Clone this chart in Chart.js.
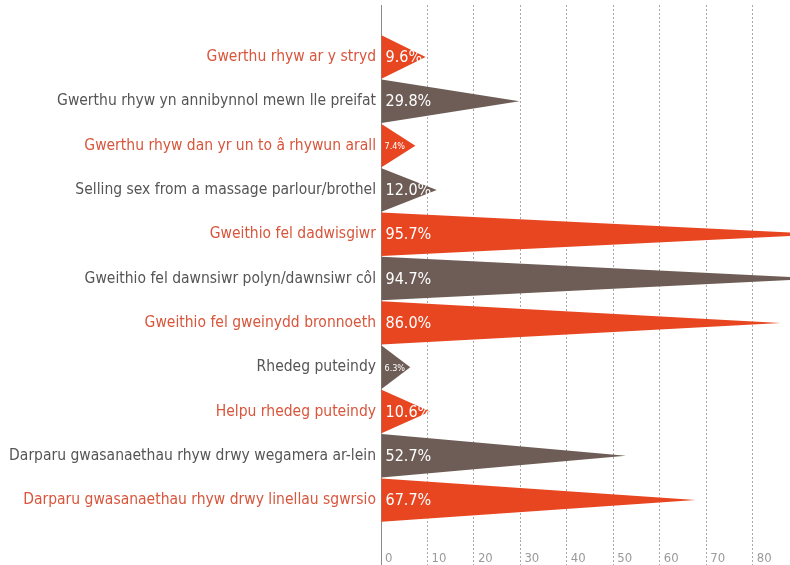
<!DOCTYPE html>
<html>
<head>
<meta charset="utf-8">
<script src="https://cdn.jsdelivr.net/npm/chart.js@4/dist/chart.umd.min.js"></script>
<style>
  html, body { margin: 0; padding: 0; background: #fff; }
  #wrap { width: 790px; height: 565px; position: relative; }
</style>
</head>
<body>
<div id="wrap"><canvas id="triChart"></canvas></div>
<script>
const categories = [
    'Gwerthu rhyw ar y stryd',
    'Gwerthu rhyw yn annibynnol mewn lle preifat',
    'Gwerthu rhyw dan yr un to â rhywun arall',
    'Selling sex from a massage parlour/brothel',
    'Gweithio fel dadwisgiwr',
    'Gweithio fel dawnsiwr polyn/dawnsiwr côl',
    'Gweithio fel gweinydd bronnoeth',
    'Rhedeg puteindy',
    'Helpu rhedeg puteindy',
    'Darparu gwasanaethau rhyw drwy wegamera ar-lein',
    'Darparu gwasanaethau rhyw drwy linellau sgwrsio'
];
const values = [9.6, 29.8, 7.4, 12.0, 95.7, 94.7, 86.0, 6.3, 10.6, 52.7, 67.7];
const xTicks = [0, 10, 20, 30, 40, 50, 60, 70, 80];

const ORANGE = '#e84621';
const BROWN = '#6e5d56';
const barColors = categories.map((c, i) => i % 2 === 0 ? ORANGE : BROWN);
const labelColors = categories.map((c, i) => i % 2 === 0 ? '#d8563c' : '#555555');
const FONT = "'DejaVu Sans Condensed', 'Liberation Sans Narrow', 'Open Sans', sans-serif";

// draws the bars as triangles pointing right, plus the value inside
const trianglePlugin = {
    id: 'triangles',
    beforeDatasetsDraw(chart) {
        const ctx = chart.ctx;
        const area = chart.chartArea;
        const meta = chart.getDatasetMeta(0);
        ctx.save();
        ctx.beginPath();
        ctx.rect(area.left, area.top, area.right - area.left, area.bottom - area.top);
        ctx.clip();
        meta.data.forEach((bar, i) => {
            const p = bar.getProps(['x', 'y', 'base', 'height'], true);
            ctx.beginPath();
            ctx.moveTo(p.base, p.y - p.height / 2);
            ctx.lineTo(p.x, p.y);
            ctx.lineTo(p.base, p.y + p.height / 2);
            ctx.closePath();
            ctx.fillStyle = barColors[i];
            ctx.fill();
        });
        ctx.fillStyle = '#ffffff';
        ctx.textAlign = 'left';
        ctx.textBaseline = 'middle';
        meta.data.forEach((bar, i) => {
            const p = bar.getProps(['y', 'base'], true);
            const small = values[i] < 8;
            ctx.font = (small ? '9px ' : '16px ') + FONT;
            ctx.fillText(values[i].toFixed(1) + '%', p.base + (small ? 3 : 4), p.y + 1);
        });
        ctx.restore();
        return false;
    }
};

const triChart = new Chart(document.getElementById('triChart'), {
    type: 'bar',
    data: {
        datasets: [{
            data: values.map((v, i) => ({ x: v, y: i })),
            backgroundColor: barColors,
            categoryPercentage: 1,
            barPercentage: 0.98
        }]
    },
    options: {
        indexAxis: 'y',
        responsive: true,
        maintainAspectRatio: false,
        animation: false,
        layout: { padding: { top: 5, right: 0, bottom: 0, left: 0 } },
        plugins: {
            legend: { display: false },
            tooltip: { enabled: false }
        },
        scales: {
            x: {
                type: 'linear',
                position: 'bottom',
                min: 0,
                max: 88.03,
                afterBuildTicks: (scale) => {
                    scale.ticks = xTicks.map(v => ({ value: v }));
                },
                afterFit: (scale) => { scale.height = 25; },
                grid: {
                    color: (c) => c.tick && c.tick.value === 0 ? 'rgba(0,0,0,0)' : '#a8a8a8',
                    tickColor: (c) => c.tick && c.tick.value === 0 ? '#8a8a8a' : '#a8a8a8',
                    lineWidth: 1,
                    drawTicks: true,
                    tickLength: 25,
                    tickBorderDash: (c) => c.tick && c.tick.value === 0 ? [] : [2, 2]
                },
                border: { display: false, dash: [2, 2] },
                ticks: {
                    align: 'start',
                    labelOffset: 4,
                    padding: -14,
                    color: '#9a9a9a',
                    font: { family: FONT, size: 13 }
                }
            },
            y: {
                type: 'linear',
                reverse: true,
                offset: false,
                min: -1.174,
                max: 10.9,
                afterBuildTicks: (scale) => {
                    scale.ticks = categories.map((c, i) => ({ value: i }));
                },
                afterFit: (scale) => {
                    scale.width = 381;
                    scale.paddingTop = 0;
                    scale.paddingBottom = 0;
                },
                grid: { display: false, drawTicks: false, offset: false },
                border: { display: true, color: '#8a8a8a', width: 1 },
                ticks: {
                    padding: 5,
                    color: (c) => labelColors[c.index],
                    font: { family: FONT, size: 15.5 },
                    callback: (value) => categories[value]
                }
            }
        }
    },
    plugins: [trianglePlugin]
});
</script>
</body>
</html>
